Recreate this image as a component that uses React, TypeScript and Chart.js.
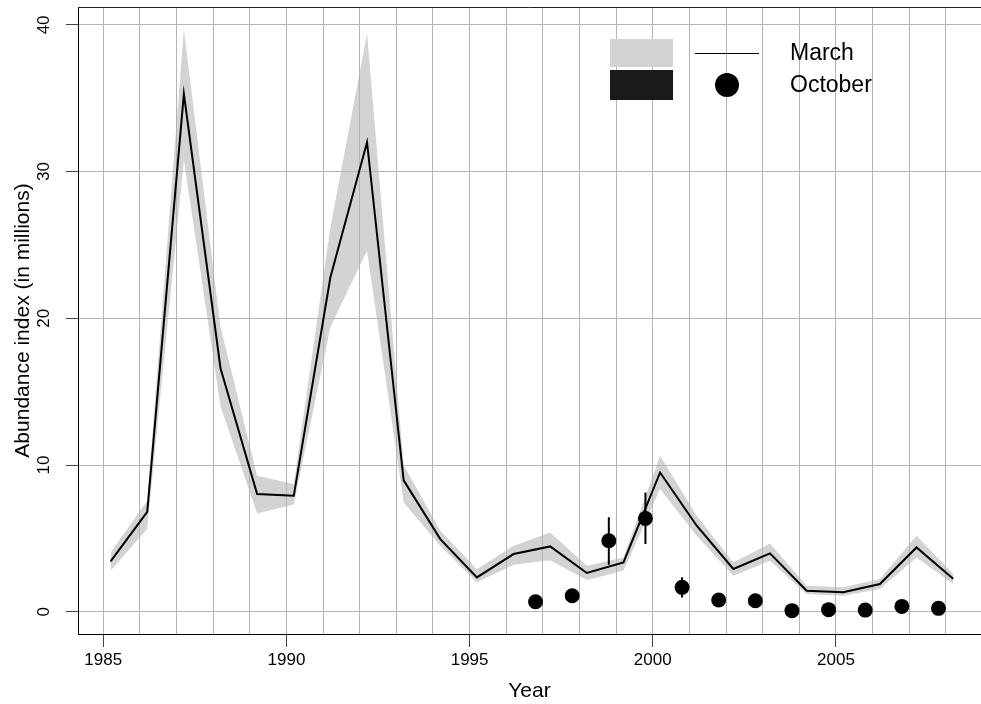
import React, { useEffect, useRef } from "react";
import { Chart, registerables } from "chart.js";

Chart.register(...registerables);

// ---- data ----
const marchYears = [1985, 1986, 1987, 1988, 1989, 1990, 1991, 1992, 1993, 1994, 1995, 1996, 1997, 1998, 1999, 2000, 2001, 2002, 2003, 2004, 2005, 2006, 2007, 2008];
const marchIndex = [3.43, 6.81, 35.3, 16.6, 8.02, 7.9, 22.8, 32.0, 8.95, 4.95, 2.34, 3.93, 4.45, 2.64, 3.36, 9.49, 5.86, 2.91, 3.98, 1.43, 1.32, 1.89, 4.38, 2.25];
const marchLower = [2.8, 5.66, 30.8, 14.0, 6.7, 7.3, 19.4, 24.6, 7.45, 4.5, 2.0, 3.2, 3.5, 2.16, 2.8, 8.36, 5.18, 2.45, 3.48, 1.2, 1.09, 1.55, 3.7, 1.89];
const marchUpper = [4.04, 7.56, 39.7, 19.4, 9.27, 8.7, 26.2, 39.4, 10.0, 5.52, 2.9, 4.5, 5.4, 3.13, 3.7, 10.63, 6.54, 3.36, 4.65, 1.77, 1.66, 2.23, 5.18, 2.57];

const octYears = [1996, 1997, 1998, 1999, 2000, 2001, 2002, 2003, 2004, 2005, 2006, 2007];
const octIndex = [0.68, 1.09, 4.84, 6.36, 1.66, 0.8, 0.75, 0.07, 0.14, 0.11, 0.36, 0.23];
const octLower = [0.5, 0.9, 3.2, 4.61, 0.97, 0.6, 0.55, 0.0, 0.0, 0.0, 0.2, 0.1];
const octUpper = [0.9, 1.3, 6.43, 8.13, 2.34, 1.0, 0.95, 0.2, 0.3, 0.25, 0.55, 0.4];

const MARCH_OFFSET = 0.2; // survey month position within the year
const OCT_OFFSET = 0.8;

const xGridYears = [1985, 1986, 1987, 1988, 1989, 1990, 1991, 1992, 1993, 1994, 1995, 1996, 1997, 1998, 1999, 2000, 2001, 2002, 2003, 2004, 2005, 2006, 2007, 2008];
const xLabelYears = [1985, 1990, 1995, 2000, 2005];
const yTicks = [0, 10, 20, 30, 40];

const legendLabels = ["March", "October"];

const FONT = "'Liberation Sans', Arial, Helvetica, sans-serif";

export default function App() {
  const canvasRef = useRef<HTMLCanvasElement | null>(null);

  useEffect(() => {
    const canvas = canvasRef.current;
    if (!canvas) return;

    const marchLine = marchYears.map((yr, i) => ({ x: yr + MARCH_OFFSET, y: marchIndex[i] }));
    const bandUp = marchYears.map((yr, i) => ({ x: yr + MARCH_OFFSET, y: marchUpper[i] }));
    const bandLo = marchYears.map((yr, i) => ({ x: yr + MARCH_OFFSET, y: marchLower[i] }));
    const octPts = octYears.map((yr, i) => ({ x: yr + OCT_OFFSET, y: octIndex[i] }));
    const errBars: { x: number; y: number | null }[] = [];
    octYears.forEach((yr, i) => {
      errBars.push({ x: yr + OCT_OFFSET, y: octLower[i] });
      errBars.push({ x: yr + OCT_OFFSET, y: octUpper[i] });
      errBars.push({ x: yr + OCT_OFFSET, y: null });
    });

    const overlay = {
      id: "overlay",
      afterDraw(chart: any) {
        const ctx = chart.ctx as CanvasRenderingContext2D;
        const area = chart.chartArea;
        const ys = chart.scales.y;
        ctx.save();
        // top frame line
        ctx.strokeStyle = "#222";
        ctx.lineWidth = 1;
        ctx.beginPath();
        ctx.moveTo(area.left, area.top + 0.5);
        ctx.lineTo(area.right, area.top + 0.5);
        ctx.stroke();

        // rotated y tick labels
        ctx.fillStyle = "#000";
        ctx.font = `17px ${FONT}`;
        ctx.textAlign = "center";
        ctx.textBaseline = "alphabetic";
        yTicks.forEach((v) => {
          const py = ys.getPixelForValue(v);
          ctx.save();
          ctx.translate(area.left - 29, py);
          ctx.rotate(-Math.PI / 2);
          ctx.fillText(String(v), 0, 0);
          ctx.restore();
        });

        // legend
        const lx = area.left + 532;
        const ly = area.top + 32;
        ctx.fillStyle = "#d3d3d3";
        ctx.fillRect(lx, ly, 63, 28);
        ctx.fillStyle = "#1a1a1a";
        ctx.fillRect(lx, ly + 31, 63, 30);
        ctx.strokeStyle = "#000";
        ctx.lineWidth = 1;
        ctx.beginPath();
        ctx.moveTo(lx + 85, ly + 14.5);
        ctx.lineTo(lx + 149, ly + 14.5);
        ctx.stroke();
        ctx.fillStyle = "#000";
        ctx.beginPath();
        ctx.arc(lx + 117, ly + 46, 12, 0, Math.PI * 2);
        ctx.fill();
        ctx.font = `23px ${FONT}`;
        ctx.textAlign = "left";
        ctx.textBaseline = "middle";
        ctx.fillText(legendLabels[0], lx + 180, ly + 15);
        ctx.fillText(legendLabels[1], lx + 180, ly + 47);
        ctx.restore();
      },
    };

    const chart = new Chart(canvas, {
      type: "line",
      data: {
        datasets: [
          {
            label: "March",
            data: marchLine,
            borderColor: "#000",
            borderWidth: 2,
            pointRadius: 0,
            fill: false,
            tension: 0,
          },
          {
            label: "October",
            data: octPts,
            showLine: false,
            pointRadius: 7.5,
            pointHoverRadius: 7.5,
            pointBackgroundColor: "#000",
            pointBorderWidth: 0,
            borderColor: "#000",
            fill: false,
          },
          {
            label: "October error",
            data: errBars as any,
            borderColor: "#000",
            borderWidth: 2,
            pointRadius: 0,
            spanGaps: false,
            fill: false,
          },
          {
            label: "March upper",
            data: bandUp,
            borderColor: "rgba(0,0,0,0)",
            borderWidth: 0,
            pointRadius: 0,
            backgroundColor: "#d3d3d3",
            fill: "+1",
          },
          {
            label: "March lower",
            data: bandLo,
            borderColor: "rgba(0,0,0,0)",
            borderWidth: 0,
            pointRadius: 0,
            fill: false,
          },
        ],
      },
      options: {
        responsive: false,
        animation: false,
        devicePixelRatio: 1,
        events: [],
        layout: { autoPadding: false, padding: { top: 7, right: 0, left: 0, bottom: 0 } },
        plugins: {
          legend: { display: false },
          tooltip: { enabled: false },
          filler: { propagate: false, drawTime: "beforeDraw" } as any,
        },
        scales: {
          x: {
            type: "linear",
            min: 1984.31,
            max: 2008.96,
            afterBuildTicks: (axis: any) => {
              axis.ticks = xGridYears.map((v) => ({ value: v }));
            },
            afterFit: (axis: any) => {
              axis.height = 70;
              axis.paddingLeft = 0;
              axis.paddingRight = 0;
            },
            ticks: {
              autoSkip: false,
              maxRotation: 0,
              minRotation: 0,
              padding: 3,
              color: "#000",
              font: { family: FONT, size: 17 },
              callback: (v: any) => (xLabelYears.includes(Number(v)) ? String(v) : ""),
            },
            grid: {
              color: "#b4b4b4",
              lineWidth: 1,
              drawTicks: true,
              tickLength: 13,
              tickColor: (ctx: any) =>
                ctx.tick && xLabelYears.includes(ctx.tick.value) ? "#444" : "rgba(0,0,0,0)",
            },
            border: { display: true, color: "#000", width: 1 },
            title: {
              display: true,
              text: "Year",
              color: "#000",
              font: { family: FONT, size: 21 },
              padding: { top: 0, bottom: 0 },
            },
          },
          y: {
            type: "linear",
            min: -1.52,
            max: 41.22,
            afterBuildTicks: (axis: any) => {
              axis.ticks = yTicks.map((v) => ({ value: v }));
            },
            afterFit: (axis: any) => {
              axis.width = 78;
              axis.paddingTop = 0;
              axis.paddingBottom = 0;
            },
            ticks: { display: false },
            grid: {
              color: "#b4b4b4",
              lineWidth: 1,
              drawTicks: true,
              tickLength: 12,
              tickColor: "#444",
            },
            border: { display: true, color: "#000", width: 1 },
            title: {
              display: true,
              text: "Abundance index (in millions)",
              color: "#000",
              font: { family: FONT, size: 21 },
              padding: { top: 11, bottom: 0 },
            },
          },
        },
      },
      plugins: [overlay],
    });

    return () => {
      chart.destroy();
    };
  }, []);

  return (
    <div style={{ position: "absolute", left: 0, top: 0, width: 981, height: 704, background: "#fff" }}>
      <canvas ref={canvasRef} width={981} height={704} style={{ display: "block", width: 981, height: 704 }} />
    </div>
  );
}
